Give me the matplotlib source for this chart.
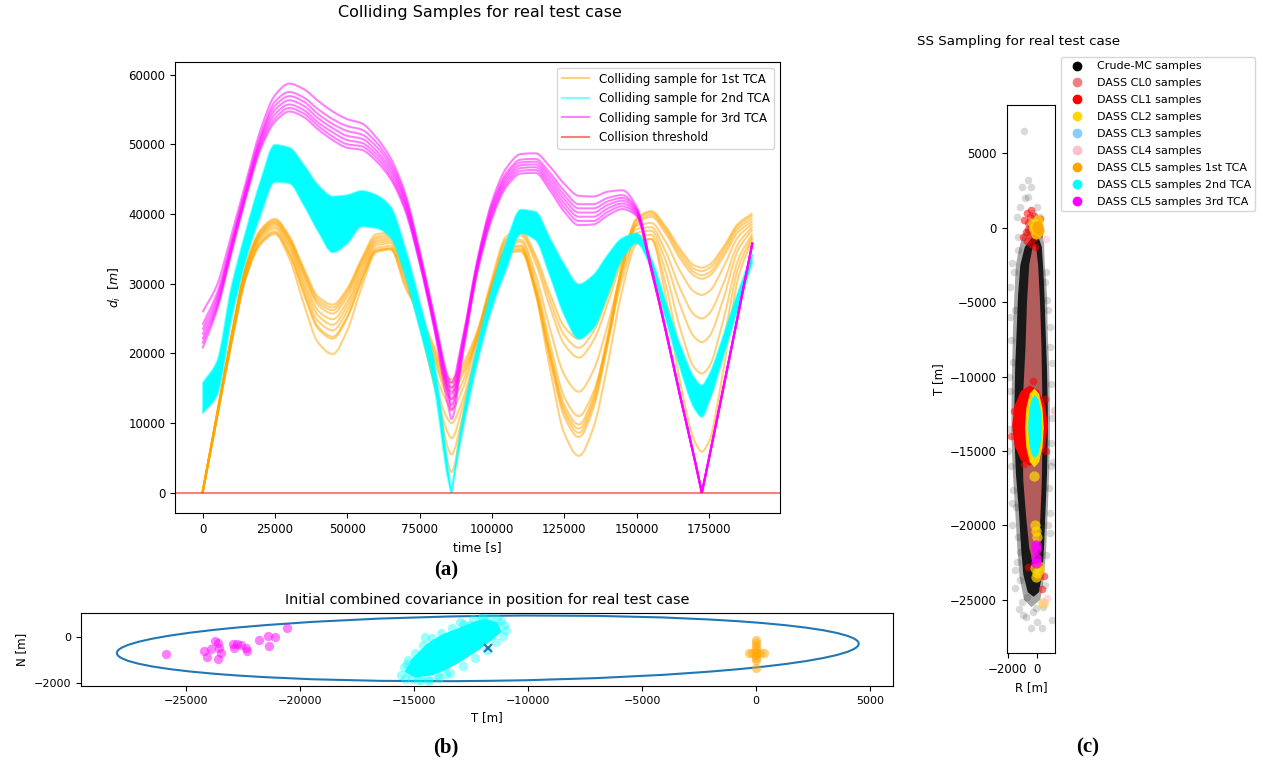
import numpy as np
import matplotlib.pyplot as plt
from matplotlib.patches import Ellipse, PathPatch
from matplotlib.path import Path
from matplotlib.lines import Line2D

# ---------------- (a) distance histories ----------------
# time grid [s]
t_s = [0, 5000, 10000, 15000, 20000, 25000, 30000, 35000, 40000, 45000,
       50000, 55000, 60000, 65000, 70000, 75000, 80000, 85000, 86000, 90000,
       95000, 100000, 105000, 110000, 115000, 120000, 125000, 130000, 135000, 140000,
       145000, 150000, 155000, 160000, 165000, 170000, 172500, 175000, 180000, 185000,
       190000]

# colliding samples for 1st TCA, distance [km]
tca1_km = [
    [0.0, 11.3, 22.6, 32.6, 37.7, 39.3, 36.8, 32.2, 28.1, 27.0, 29.3, 33.6, 37.1, 37.3, 33.2, 26.3, 21.0, 16.4, 16.3, 18.5,
     23.3, 30.1, 34.9, 35.3, 29.6, 20.5, 12.6, 9.8, 13.8, 22.6, 32.9, 39.4, 40.4, 38.2, 35.0, 32.6, 32.3, 32.7, 35.3, 38.6, 40.1],
    [0.0, 11.3, 22.5, 32.4, 37.5, 39.1, 36.6, 31.9, 27.7, 26.6, 29.0, 33.3, 36.7, 37.0, 32.8, 25.9, 20.5, 15.9, 15.8, 18.0,
     22.9, 29.8, 34.7, 35.0, 29.3, 20.0, 12.0, 9.2, 13.2, 22.2, 32.6, 39.2, 40.2, 37.9, 34.6, 32.1, 31.8, 32.2, 34.9, 38.3, 39.8],
    [0.0, 11.2, 22.4, 32.3, 37.3, 38.9, 36.3, 31.5, 27.3, 26.2, 28.6, 33.0, 36.4, 36.7, 32.5, 25.4, 20.0, 15.3, 15.2, 17.5,
     22.4, 29.5, 34.5, 34.8, 29.0, 19.6, 11.5, 8.6, 12.7, 21.7, 32.2, 38.8, 39.9, 37.6, 34.1, 31.6, 31.2, 31.6, 34.4, 37.9, 39.4],
    [0.0, 11.1, 22.3, 32.1, 37.1, 38.7, 36.1, 31.2, 26.9, 25.7, 28.1, 32.6, 36.1, 36.4, 32.1, 24.9, 19.5, 14.7, 14.6, 17.0,
     22.0, 29.2, 34.3, 34.6, 28.7, 19.2, 10.9, 8.0, 12.1, 21.3, 31.9, 38.5, 39.6, 37.2, 33.6, 31.1, 30.7, 31.1, 33.9, 37.4, 39.0],
    [0.0, 11.1, 22.2, 31.9, 36.9, 38.5, 35.8, 30.6, 26.1, 24.9, 27.4, 32.1, 35.8, 36.1, 31.8, 25.0, 19.0, 13.8, 13.5, 16.0,
     22.8, 30.8, 36.8, 37.6, 34.1, 28.6, 23.8, 22.1, 24.3, 29.1, 34.8, 38.3, 38.7, 36.0, 31.8, 28.8, 28.4, 28.9, 32.4, 36.7, 38.6],
    [0.0, 11.0, 22.0, 31.7, 36.7, 38.2, 35.4, 30.0, 25.4, 24.1, 26.8, 31.6, 35.5, 35.8, 31.4, 24.5, 17.5, 12.6, 12.0, 15.0,
     22.0, 30.1, 36.4, 37.2, 33.6, 27.7, 22.6, 20.8, 23.1, 28.2, 34.1, 37.8, 38.1, 34.6, 29.3, 25.5, 25.0, 25.7, 30.1, 35.7, 38.2],
    [0.0, 10.9, 21.8, 31.4, 36.4, 37.9, 35.0, 29.4, 24.6, 23.3, 26.1, 31.1, 35.1, 35.4, 31.0, 24.0, 16.0, 10.4, 10.0, 13.5,
     21.0, 29.3, 36.1, 36.9, 33.0, 26.7, 21.3, 19.4, 21.8, 27.2, 33.4, 37.3, 37.6, 33.3, 26.9, 22.3, 21.6, 22.4, 27.9, 34.8, 37.8],
    [0.0, 10.8, 21.6, 31.1, 36.0, 37.5, 34.4, 28.8, 23.8, 22.4, 25.3, 30.6, 34.8, 35.1, 30.5, 24.5, 15.5, 8.4, 7.8, 12.5,
     20.5, 28.8, 35.5, 36.3, 31.4, 23.6, 16.9, 14.5, 17.5, 24.1, 31.8, 36.6, 37.0, 31.7, 23.6, 17.9, 17.1, 18.1, 24.9, 33.4, 37.2],
    [0.0, 10.7, 21.4, 30.8, 35.6, 37.1, 33.6, 27.1, 21.5, 19.9, 23.3, 29.5, 34.5, 34.9, 30.0, 25.0, 16.5, 6.2, 5.5, 11.2,
     20.2, 28.2, 34.8, 35.5, 28.8, 17.9, 8.5, 5.3, 9.3, 18.5, 29.1, 35.7, 36.4, 29.9, 20.1, 13.1, 12.1, 13.3, 21.7, 32.2, 36.8],
    [0.0, 10.7, 21.5, 30.9, 35.8, 37.3, 34.2, 28.5, 23.5, 22.1, 25.1, 30.4, 34.7, 35.0, 29.5, 25.5, 17.3, 3.9, 3.0, 10.6,
     20.2, 28.0, 35.0, 36.0, 30.4, 21.5, 13.7, 11.0, 14.4, 21.9, 30.7, 36.2, 36.4, 28.2, 15.9, 7.4, 5.9, 7.4, 17.8, 30.7, 36.5],
]

# colliding samples for 2nd TCA: upper and lower edge of the band [km]
tca2_upper_km = [15.7, 18.8, 29.5, 37.5, 44.6, 49.9, 49.5, 47.0, 44.1, 42.5, 42.7, 43.3, 42.7, 41.0, 35.1, 27.4, 18.8, 3.0, 0.0, 11.1,
                 21.2, 29.3, 36.0, 40.6, 40.3, 36.5, 32.7, 29.9, 31.2, 34.1, 36.5, 37.2, 33.6, 27.4, 21.2, 16.4, 15.4, 16.9, 22.6, 28.8, 34.3]
tca2_lower_km = [11.4, 14.0, 25.0, 33.5, 39.8, 44.6, 44.4, 41.3, 37.5, 34.5, 35.8, 38.2, 38.0, 36.6, 31.2, 23.6, 15.4, 1.6, 0.0, 9.2,
                 18.8, 26.5, 32.2, 37.2, 36.3, 31.2, 25.5, 22.1, 23.6, 28.4, 33.6, 35.8, 32.2, 25.0, 17.9, 12.1, 10.9, 13.1, 19.7, 26.5, 33.1]

# colliding samples for 3rd TCA [km]
tca3_km = [
    [25.9, 29.8, 37.0, 44.6, 52.0, 57.0, 58.7, 57.9, 56.2, 54.7, 53.6, 53.0, 51.0, 48.0, 43.0, 34.8, 25.5, 16.5, 15.8, 22.5,
     33.5, 41.8, 46.6, 48.6, 48.7, 46.8, 44.3, 42.6, 42.5, 43.2, 43.4, 41.0, 32.5, 23.5, 14.0, 4.8, 0.0, 5.0, 15.2, 25.5, 35.9],
    [24.1, 28.6, 36.1, 43.9, 51.2, 56.1, 57.5, 56.7, 55.0, 53.6, 52.6, 52.1, 50.3, 47.4, 42.5, 34.4, 25.1, 15.9, 15.0, 22.1,
     33.2, 41.3, 45.9, 47.8, 47.9, 45.9, 43.3, 41.4, 41.4, 42.3, 42.7, 40.7, 32.4, 23.4, 14.0, 4.8, 0.0, 5.0, 15.2, 25.5, 35.9],
    [23.4, 28.0, 35.7, 43.5, 50.8, 55.5, 56.9, 56.1, 54.3, 52.9, 51.9, 51.4, 49.7, 46.9, 42.1, 34.1, 24.8, 15.3, 14.2, 21.7,
     32.9, 40.9, 45.5, 47.4, 47.5, 45.4, 42.7, 40.8, 40.8, 41.8, 42.3, 40.5, 32.3, 23.4, 13.9, 4.8, 0.0, 5.0, 15.2, 25.5, 35.9],
    [22.7, 27.5, 35.4, 43.2, 50.4, 54.9, 56.3, 55.5, 53.7, 52.3, 51.2, 50.8, 49.1, 46.4, 41.7, 33.8, 24.5, 14.7, 13.4, 21.3,
     32.6, 40.5, 45.1, 47.0, 47.1, 44.9, 42.1, 40.2, 40.2, 41.3, 41.9, 40.3, 32.2, 23.3, 13.9, 4.8, 0.0, 5.0, 15.2, 25.5, 35.9],
    [22.0, 27.0, 35.0, 42.9, 50.0, 54.3, 55.7, 54.9, 53.1, 51.7, 50.6, 50.2, 48.6, 45.9, 41.3, 33.5, 24.2, 14.1, 12.6, 20.9,
     32.3, 40.1, 44.7, 46.6, 46.7, 44.4, 41.5, 39.6, 39.6, 40.8, 41.5, 40.1, 32.1, 23.3, 13.9, 4.8, 0.0, 5.0, 15.2, 25.5, 35.9],
    [21.4, 26.6, 34.7, 42.6, 49.6, 53.7, 55.2, 54.4, 52.6, 51.1, 50.0, 49.7, 48.1, 45.4, 40.9, 33.2, 23.9, 13.5, 11.8, 20.5,
     32.0, 39.7, 44.3, 46.2, 46.3, 43.9, 40.9, 39.0, 39.0, 40.3, 41.1, 39.9, 32.0, 23.2, 13.8, 4.8, 0.0, 5.0, 15.2, 25.5, 35.9],
    [20.7, 26.2, 34.4, 42.3, 49.2, 53.2, 54.7, 53.9, 52.1, 50.6, 49.5, 49.2, 47.6, 45.0, 40.5, 32.9, 23.6, 12.2, 10.6, 20.1,
     31.7, 39.3, 43.9, 45.8, 45.9, 43.4, 40.3, 38.4, 38.5, 39.8, 40.7, 39.7, 31.9, 23.2, 13.8, 4.8, 0.0, 5.0, 15.2, 25.5, 35.9],
]

collision_threshold = 0

# ---------------- (b) initial covariance in T-N plane ----------------
cov_center_T = -11760
cov_center_N = -480
cov_width = 32514
cov_height = 2826
cov_angle = 0.72

b_tca3_T = [-25850, -24200, -24057, -23880, -23707, -23590, -23590, -23445, -23560, -22935, -22890,
            -22745, -22570, -22350, -22310, -21766, -21372, -21350, -21083, -20558]
b_tca3_N = [-739, -596, -843, -522, -148, -261, -957, -670, -450, -304, -478,
            -304, -333, -478, -583, -117, 70, -378, 0, 391]

b_tca2_core_T = [-15400, -15100, -14450, -13750, -13000, -12300, -11850, -11350, -11150, -11550,
                 -12150, -12850, -13550, -14200, -14950]
b_tca2_core_N = [-1500, -950, -300, 130, 420, 700, 800, 650, 250, -100,
                 -550, -1000, -1400, -1650, -1750]
b_tca2_T = [-15550, -15400, -15100, -14800, -14400, -14000, -15450, -15250, -14950, -14600, -14200, -13800, -13350,
            -12850, -12400, -12000, -11650, -11350, -11050, -10950, -11100, -11400, -11800, -12300, -12850, -13400,
            -13900, -14350, -14700, -15200, -13000, -12000, -14500, -15300, -14100, -12600, -11200, -13600]
b_tca2_N = [-1650, -1800, -1800, -1850, -1800, -1650, -1300, -1000, -700, -350, -50, 200, 400,
            600, 800, 900, 900, 800, 550, 300, 50, -200, -550, -900, -1250, -1550,
            -1750, -1900, -1850, -1500, 650, 850, 0, -1150, -250, 550, 700, -1600]

b_tca1_T = [0, 0, 0, 0, 0, 0, 0, 0, -330, -170, 170, 360, 0]
b_tca1_N = [-100, -230, -380, -520, -650, -780, -900, -1000, -700, -700, -700, -700, -1350]

# ---------------- (c) subset sampling in R-T plane ----------------
mc_R = [-875, -606, -1050, -400, -828, -606, -1164, -40, -269, -1346, 182, -1279, -1723, -1837, 530, 632, 855,
        -1790, 968, 1120, 1077, -1656, -1433, 855, -1279, 855, -1346, -1164, -1500, -673, -1050, -80, -983, -760,
        -444, 296, 968, -1500, -1650, -1850, -1900, -1800, 750, 900, 950, 800, -1200, 600, -1700, 400, -300,
        -1300, -1550, 600, -1850, 850, -1900, 1000, -1950, 900, -1700, 700, -1500, 500, -1250, 0]
mc_T = [6520, 3205, 2755, 2710, 1975, 2050, 1411, 1364, 968, 740, 740, -605, -2393, -3963, -3627, -4858, -6650,
        -7545, -9110, -12250, -15725, -17626, -18749, -19197, -20765, -20540, -22445, -23675, -24200, -24797, -25133,
        -25577, -26027, -26183, -26921, -26921, -26362, -5500, -9000, -11000, -13500, -16000, -5500, -10500, -14500,
        -17500, -21800, -22000, -20000, -25500, -25800,
        -1500, -3000, -3000, -6000, -8000, -10000, -12800, -15000, -16000, -18500, -20000, -23000, -24000, -25600, -26500]
mc_outer_R = [-400, -1000, -1250, -1450, -1550, -1650, -1700, -1750, -1750, -1650, -1500, -1350, -1200, -900,
              -400, 200, 450, 600, 700, 800, 850, 850, 800, 700, 650, 500, 450, 200]
mc_outer_T = [400, -500, -1500, -2500, -4500, -7000, -9500, -12000, -14000, -16500, -19000, -21500, -23500, -25000,
              -25500, -25000, -23500, -21500, -19000, -16500, -14000, -12000, -9500, -7000, -4500, -2500, -1000, 400]
mc_inner_R = [-400, -850, -1150, -1300, -1400, -1500, -1550, -1550, -1450, -1250, -1100, -950, -650, -250,
              100, 330, 450, 550, 650, 700, 700, 650, 560, 480, 380, 300, 100]
mc_inner_T = [-700, -1300, -2500, -4500, -7000, -9500, -12000, -14000, -16500, -19000, -21500, -23300, -24500, -24800,
              -24500, -23300, -21500, -19000, -16500, -14000, -12000, -9500, -7000, -4500, -2500, -1300, -700]

cl0_R = [-300, -550, -700, -800, -950, -1000, -950, -750, -550, -300, 100, 200, 300, 350, 330, 280, 180, 50, -100]
cl0_T = [-1200, -2500, -5000, -8000, -11000, -14000, -17000, -19500, -21500, -22500, -21500, -19500, -17000, -14000,
         -11000, -8000, -5000, -2500, -1200]

cl1_region_R = [-500, -1100, -1539, -1700, -1539, -1100, -500, 100, 539, 700, 539, 100]
cl1_region_T = [-10600, -10962, -11950, -13300, -14650, -15638, -16000, -15638, -14650, -13300, -11950, -10962]
cl1_R = [-700, -400, -200, -900, -600, -300, -800, -500, -200, -700, -400, -150, 100, 200, -1000, -500, -250, -650,
         430, 50, -600, 300, -1600, -1750, 500, 600, -300, -900]
cl1_T = [1000, 1200, 800, 500, 300, 200, -300, -500, -700, -900, -1100, -1300, -400, 600, -600, 700, -200, -100,
         -23400, -23500, -22800, -24300, -12300, -14000, -11500, -15000, -10300, -15900]

cl2_region_R = [-200, -515, -746, -830, -746, -515, -200, 115, 346, 430, 346, 115]
cl2_region_T = [-10800, -11155, -12125, -13450, -14775, -15745, -16100, -15745, -14775, -13450, -12125, -11155]
cl2_R = [-300, -200, 0, 100, -100, 50, -250, -150, -100, -50, -180, -50, -100, 100, 130, 363, -200]
cl2_T = [300, -100, 200, -200, -400, 500, 50, -20000, -20400, -20800, -22900, -23200, -23500, -22700, -23000, -25200, -16700]

cl3_R = [-200, 0]
cl3_T = [-12000, -14000]

cl4_R = [585, 1100, 632, 350]
cl4_T = [-740, -12300, -24900, -25200]

cl5_1st_R = [0, 80, -50, 60]
cl5_1st_T = [0, -150, 100, 150]

cl5_2nd_R = [-160, -390, -558, -620, -558, -390, -160, 70, 238, 300, 238, 70]
cl5_2nd_T = [-11240, -11525, -12305, -13370, -14435, -15215, -15500, -15215, -14435, -13370, -12305, -11525]

cl5_3rd_R = [-100, -80, -100, -60]
cl5_3rd_T = [-21300, -21600, -22200, -22500]


def smooth_verts(x, y):
    """Cubic Bezier pieces through the points (monotone tangents, sharp at zero touches)."""
    x = np.asarray(x, float)
    y = np.asarray(y, float)
    h = np.diff(x)
    d = np.diff(y) / h
    m_in = np.zeros_like(y)
    m_out = np.zeros_like(y)
    m_in[0] = m_out[0] = d[0]
    m_in[-1] = m_out[-1] = d[-1]
    for i in range(1, len(y) - 1):
        if y[i] == 0:
            m_in[i], m_out[i] = d[i - 1], d[i]
        elif d[i - 1] * d[i] > 0:
            w1 = 2 * h[i] + h[i - 1]
            w2 = h[i] + 2 * h[i - 1]
            m_in[i] = m_out[i] = (w1 + w2) / (w1 / d[i - 1] + w2 / d[i])
    verts = [(x[0], y[0])]
    for i in range(len(h)):
        verts += [(x[i] + h[i] / 3, y[i] + m_out[i] * h[i] / 3),
                  (x[i + 1] - h[i] / 3, y[i + 1] - m_in[i + 1] * h[i] / 3),
                  (x[i + 1], y[i + 1])]
    return verts


def curve_path(x, y):
    v = smooth_verts(x, y)
    return Path(v, [Path.MOVETO] + [Path.CURVE4] * (len(v) - 1))


fig = plt.figure(figsize=(12.63, 7.65), dpi=100)

# ---------------- panel (a) ----------------
ax1 = fig.add_axes([0.13856, 0.32941, 0.47902, 0.58954])
t = np.array(t_s, float)
for d in tca1_km:
    ax1.add_patch(PathPatch(curve_path(t, np.array(d) * 1000), fill=False,
                            edgecolor='orange', alpha=0.5, lw=1.5))
up = np.array(tca2_upper_km) * 1000
lo = np.array(tca2_lower_km) * 1000
band = smooth_verts(t, up) + smooth_verts(t[::-1], lo[::-1])
n = len(smooth_verts(t, up))
codes = [Path.MOVETO] + [Path.CURVE4] * (n - 1) + [Path.LINETO] + [Path.CURVE4] * (n - 1)
ax1.add_patch(PathPatch(Path(band + [band[0]], codes + [Path.CLOSEPOLY]), facecolor='cyan', lw=0))
ax1.add_patch(PathPatch(curve_path(t, up), fill=False, edgecolor='cyan', alpha=0.5, lw=1.5))
ax1.add_patch(PathPatch(curve_path(t, lo), fill=False, edgecolor='cyan', alpha=0.5, lw=1.5))
for d in tca3_km:
    ax1.add_patch(PathPatch(curve_path(t, np.array(d) * 1000), fill=False,
                            edgecolor='magenta', alpha=0.5, lw=1.5))
ax1.axhline(collision_threshold, color='red', alpha=0.5, lw=1.5)
ax1.set_xlim(-9500, 199500)
ax1.set_ylim(-2900, 61800)
ax1.set_xticks(range(0, 175001, 25000))
ax1.set_yticks(range(0, 60001, 10000))
ax1.tick_params(labelsize=8.5)
ax1.set_xlabel('time [s]', fontsize=9)
ax1.set_ylabel(r'$d_i\ \ [m]$', fontsize=9)
a_handles = [Line2D([], [], color=c, alpha=0.5, lw=1.5) for c in ['orange', 'cyan', 'magenta', 'red']]
ax1.legend(a_handles, ['Colliding sample for 1st TCA', 'Colliding sample for 2nd TCA',
                       'Colliding sample for 3rd TCA', 'Collision threshold'],
           loc='upper right', fontsize=8.5, labelspacing=0.55, handlelength=2.3)
fig.text(480 / 1263, 1 - 12 / 765, 'Colliding Samples for real test case', ha='center', va='center', fontsize=11.5)

# ---------------- panel (b) ----------------
ax2 = fig.add_axes([0.0639, 0.10327, 0.6432, 0.0958])
ax2.add_patch(Ellipse((cov_center_T, cov_center_N), cov_width, cov_height, angle=cov_angle,
                      fill=False, edgecolor='#1f77b4', lw=1.5))
ax2.plot([cov_center_T], [cov_center_N], 'x', color='#1f77b4', ms=6, mew=1.5)
ax2.scatter(b_tca3_T, b_tca3_N, s=45, color='magenta', alpha=0.5, lw=0)
ax2.fill(b_tca2_core_T, b_tca2_core_N, color='cyan', lw=0)
ax2.scatter(b_tca2_T, b_tca2_N, s=45, color='cyan', alpha=0.4, lw=0)
ax2.scatter(b_tca1_T, b_tca1_N, s=45, color='orange', alpha=0.5, lw=0)
ax2.set_xlim(-29600, 6000)
ax2.set_ylim(-2117, 1070)
ax2.set_xticks(range(-25000, 5001, 5000))
ax2.set_yticks([-2000, 0])
ax2.tick_params(labelsize=8)
ax2.set_xlabel('T [m]', fontsize=8.5)
ax2.set_ylabel('N [m]', fontsize=8.5)
ax2.set_title('Initial combined covariance in position for real test case', fontsize=10.4)

# ---------------- panel (c) ----------------
ax3 = fig.add_axes([0.79707, 0.14641, 0.03824, 0.71634])
ax3.scatter(mc_R, mc_T, s=30, color='black', alpha=0.15, lw=0)
ax3.fill(mc_outer_R, mc_outer_T, color='black', alpha=0.35, lw=0)
ax3.fill(mc_inner_R, mc_inner_T, color='black', alpha=0.85, lw=0)
ax3.fill(cl0_R, cl0_T, color='#b35c5c', lw=0)
ax3.fill(cl1_region_R, cl1_region_T, color='red', lw=0)
ax3.scatter(cl1_R, cl1_T, s=30, color='red', alpha=0.55, lw=0)
ax3.fill(cl2_region_R, cl2_region_T, color='gold', lw=0)
ax3.scatter(cl2_R, cl2_T, s=55, color='gold', alpha=0.7, lw=0)
ax3.scatter(cl3_R, cl3_T, s=30, color='lightskyblue', alpha=0.6, lw=0)
ax3.scatter(cl4_R, cl4_T, s=30, color='pink', alpha=0.6, lw=0)
ax3.scatter(cl5_1st_R, cl5_1st_T, s=55, color='orange', alpha=0.8, lw=0)
ax3.fill(cl5_2nd_R, cl5_2nd_T, color='cyan', lw=0)
ax3.scatter(cl5_3rd_R, cl5_3rd_T, s=55, color='magenta', alpha=0.8, lw=0)
ax3.set_xlim(-2070, 1190)
ax3.set_ylim(-28580, 8250)
ax3.set_xticks([-2000, 0])
ax3.set_yticks(range(-25000, 5001, 5000))
ax3.tick_params(labelsize=8.5)
ax3.set_xlabel('R [m]', fontsize=8.5)
ax3.set_ylabel('T [m]', fontsize=8.5)
fig.text(1019 / 1263, 1 - 42 / 765, 'SS Sampling for real test case', ha='center', va='center', fontsize=9.7)

c_labels = ['Crude-MC samples', 'DASS CL0 samples', 'DASS CL1 samples', 'DASS CL2 samples',
            'DASS CL3 samples', 'DASS CL4 samples', 'DASS CL5 samples 1st TCA',
            'DASS CL5 samples 2nd TCA', 'DASS CL5 samples 3rd TCA']
c_colors = ['black', 'lightcoral', 'red', 'gold', 'lightskyblue', 'pink', 'orange', 'cyan', 'magenta']
handles = [Line2D([], [], marker='o', ls='none', color=c, ms=6) for c in c_colors]
ax3.legend(handles, c_labels, loc='upper left', bbox_to_anchor=(1.124, 1.0876),
           borderaxespad=0, fontsize=8, labelspacing=0.62)

# panel letters
for x, y, s in [(446, 570, '(a)'), (446, 747, '(b)'), (1088, 747, '(c)')]:
    fig.text(x / 1263, 1 - y / 765, s, ha='center', va='center', fontsize=15,
             fontweight='bold', family='Liberation Serif')

fig.savefig('out.png', dpi=100)
